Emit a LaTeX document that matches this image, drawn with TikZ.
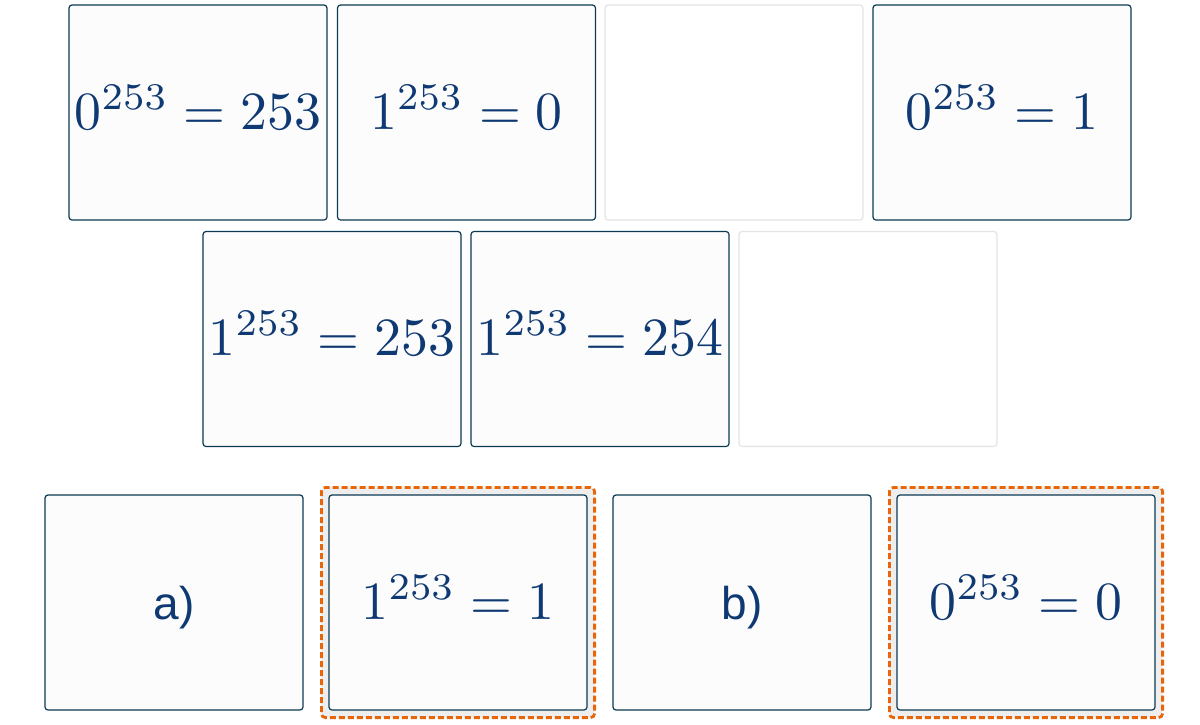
\documentclass[tikz,border=0pt]{standalone}
\usepackage{fontspec}
\usepackage{graphicx}
\setsansfont{Liberation Sans}
\usetikzlibrary{fit,backgrounds}
\definecolor{cardline}{HTML}{0B3A52}
\definecolor{cardfill}{HTML}{FCFCFC}
\definecolor{blankline}{HTML}{E4E4E4}
\definecolor{ink}{HTML}{0F3973}
\definecolor{pickline}{HTML}{E8650A}
\definecolor{pickfill}{HTML}{EEEEEE}
\newcommand{\cardeq}[1]{\scalebox{5.38}{$#1$}}
\begin{document}
\begin{tikzpicture}[x=1pt,y=-1pt,
        card/.style={draw=cardline,fill=cardfill,line width=1.2pt,rounded corners=3pt,
            minimum width=258pt,minimum height=215pt,inner sep=0pt,text=ink,
            text height=53pt,text depth=20pt},
        blank/.style={card,draw=blankline,fill=white},
        word/.style={card,font=\sffamily\fontsize{46}{55}\selectfont},
        pick/.style={draw=pickline,fill=pickfill,line width=2.8pt,dash pattern=on 6pt off 3pt,
            rounded corners=4pt,inner sep=7pt}]
                \useasboundingbox (0,0) rectangle (1200,724);
                % first row
                \node[card] (c1) at (198,112.5) {\cardeq{0^{253}=253}};
                \node[card] (c2) at (466.5,112.5) {\cardeq{1^{253}=0}};
                \node[blank] (c3) at (734,112.5) {};
                \node[card] (c4) at (1002,112.5) {\cardeq{0^{253}=1}};
                % second row
                \node[card] (c5) at (332,339) {\cardeq{1^{253}=253}};
                \node[card] (c6) at (600,339) {\cardeq{1^{253}=254}};
                \node[blank] (c7) at (868,339) {};
                % answers
                \node[word] (qa) at (174,602.5) {a)};
                \node[card] (ra) at (458,602.5) {\cardeq{1^{253}=1}};
                \node[word] (qb) at (742,602.5) {b)};
                \node[card] (rb) at (1026,602.5) {\cardeq{0^{253}=0}};
                \begin{scope}[on background layer]
                    \node[pick,fit=(ra)] (pa) {};
                    \node[pick,fit=(rb)] (pb) {};
                \end{scope}
            \end{tikzpicture}
\end{document}
